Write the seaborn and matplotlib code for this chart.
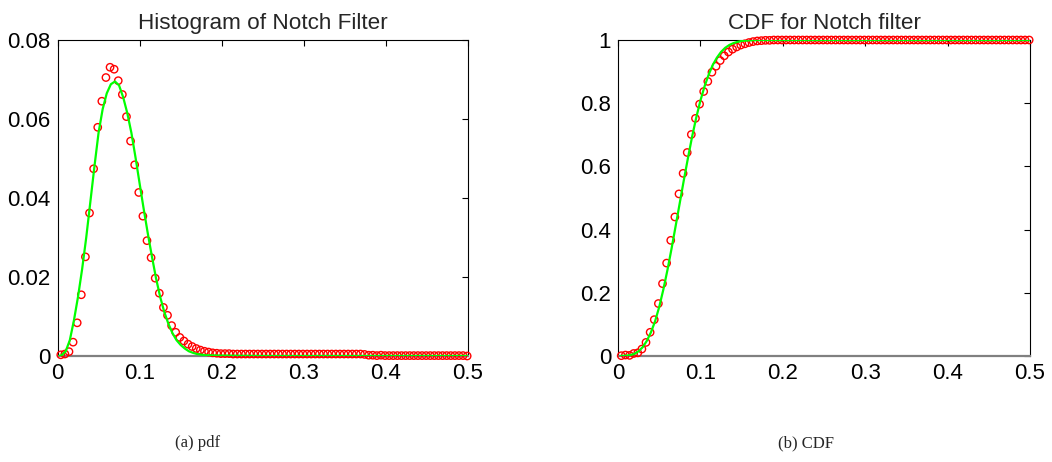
import numpy as np
import matplotlib
matplotlib.use("Agg")
import matplotlib.pyplot as plt
import seaborn as sns

sns.set_style("white")
plt.rcParams['font.family'] = ['Liberation Sans', 'DejaVu Sans']

# bin centres of the histogram (100 bins on 0..0.5)
bin_x = np.linspace(0.004, 0.499, 100)

# measured pdf (red circles)
pdf_hist = [
    0.0003, 0.0005, 0.0011, 0.0035, 0.0084, 0.0155, 0.0251, 0.0362, 0.0474, 0.0579,
    0.0645, 0.0705, 0.0731, 0.0726, 0.0697, 0.0662, 0.0606, 0.0544, 0.0484, 0.0414,
    0.0354, 0.0292, 0.0249, 0.0197, 0.0159, 0.0123, 0.0103, 0.0077, 0.0060, 0.0047,
    0.0038, 0.0030, 0.0024, 0.0019, 0.0015, 0.0012, 0.0010, 0.0008, 0.0007, 0.0006,
    0.0006, 0.0006, 0.0005, 0.0005, 0.0005, 0.0005, 0.0005, 0.0005, 0.0005, 0.0005,
    0.0005, 0.0005, 0.0005, 0.0005, 0.0005, 0.0005, 0.0005, 0.0005, 0.0005, 0.0005,
    0.0005, 0.0005, 0.0005, 0.0005, 0.0005, 0.0005, 0.0005, 0.0005, 0.0005, 0.0005,
    0.0005, 0.0005, 0.0005, 0.0005, 0.0004, 0.0002, 0.0002, 0.0001, 0.0002, 0.0001,
    0.0001, 0.0001, 0.0001, 0.0001, 0.0001, 0.0001, 0.0001, 0.0001, 0.0001, 0.0001,
    0.0001, 0.0001, 0.0001, 0.0001, 0.0001, 0.0001, 0.0001, 0.0001, 0.0001, 0.0000,
]

# measured CDF (red circles)
cdf_hist = [
    0.001, 0.003, 0.002, 0.008, 0.010, 0.022, 0.043, 0.075, 0.115, 0.166,
    0.229, 0.294, 0.366, 0.440, 0.513, 0.578, 0.644, 0.701, 0.752, 0.797,
    0.837, 0.869, 0.898, 0.917, 0.935, 0.950, 0.962, 0.971, 0.978, 0.984,
    0.988, 0.992, 0.995, 0.997, 0.998, 0.999, 0.999, 1.000, 1.000, 1.000,
    1.000, 1.000, 1.000, 1.000, 1.000, 1.000, 1.000, 1.000, 1.000, 1.000,
    1.000, 1.000, 1.000, 1.000, 1.000, 1.000, 1.000, 1.000, 1.000, 1.000,
    1.000, 1.000, 1.000, 1.000, 1.000, 1.000, 1.000, 1.000, 1.000, 1.000,
    1.000, 1.000, 1.000, 1.000, 1.000, 1.000, 1.000, 1.000, 1.000, 1.000,
    1.000, 1.000, 1.000, 1.000, 1.000, 1.000, 1.000, 1.000, 1.000, 1.000,
    1.000, 1.000, 1.000, 1.000, 1.000, 1.000, 1.000, 1.000, 1.000, 1.000,
]

# fitted pdf (green line)
fit_pdf_x = [0.002, 0.005, 0.010, 0.015, 0.020, 0.025, 0.030, 0.035, 0.040, 0.045,
             0.050, 0.055, 0.060, 0.065, 0.070, 0.075, 0.080, 0.085, 0.090, 0.095,
             0.100, 0.105, 0.110, 0.115, 0.120, 0.125, 0.130, 0.135, 0.140, 0.145,
             0.150, 0.155, 0.160, 0.165, 0.170, 0.180, 0.200, 0.250, 0.500]
fit_pdf_y = [0.0000, 0.0002, 0.0012, 0.0040, 0.0090, 0.0150, 0.0220, 0.0300, 0.0390, 0.0480,
             0.0565, 0.0625, 0.0665, 0.0688, 0.0695, 0.0685, 0.0655, 0.0615, 0.0565, 0.0503,
             0.0437, 0.0372, 0.0310, 0.0252, 0.0197, 0.0150, 0.0112, 0.0082, 0.0058, 0.0040,
             0.0028, 0.0019, 0.0012, 0.0008, 0.0005, 0.0002, 0.0001, 0.0000, 0.0000]

# fitted CDF (green line)
fit_cdf_x = [0.003, 0.010, 0.015, 0.020, 0.025, 0.030, 0.035, 0.040, 0.045, 0.050,
             0.055, 0.060, 0.065, 0.070, 0.075, 0.080, 0.085, 0.090, 0.095, 0.100,
             0.105, 0.110, 0.115, 0.120, 0.125, 0.130, 0.135, 0.140, 0.145, 0.150,
             0.160, 0.170, 0.500]
fit_cdf_y = [0.000, 0.001, 0.003, 0.007, 0.015, 0.028, 0.048, 0.075, 0.110, 0.155,
             0.210, 0.272, 0.340, 0.412, 0.485, 0.558, 0.628, 0.695, 0.755, 0.808,
             0.853, 0.890, 0.921, 0.944, 0.962, 0.975, 0.984, 0.990, 0.994, 0.997,
             0.999, 1.000, 1.000]

x_ticks = [0, 0.1, 0.2, 0.3, 0.4, 0.5]
x_labels = ['0', '0.1', '0.2', '0.3', '0.4', '0.5']
pdf_ticks = [0, 0.02, 0.04, 0.06, 0.08]
pdf_labels = ['0', '0.02', '0.04', '0.06', '0.08']
cdf_ticks = [0, 0.2, 0.4, 0.6, 0.8, 1.0]
cdf_labels = ['0', '0.2', '0.4', '0.6', '0.8', '1']

fig = plt.figure(figsize=(10.52, 4.62), dpi=100)
ax1 = fig.add_axes([57.5 / 1052, 1 - 356 / 462, 410.5 / 1052, 316 / 462])
ax2 = fig.add_axes([618 / 1052, 1 - 356 / 462, 412 / 1052, 316 / 462])


def draw(ax, y_hist, fx, fy, yticks, ylabels, title):
    sns.scatterplot(x=bin_x, y=y_hist, ax=ax, marker='o', s=28, facecolors='none',
                    edgecolor='red', linewidth=1.0, clip_on=False, zorder=3)
    sns.lineplot(x=fx, y=fy, ax=ax, color='#00ff00', linewidth=1.6, zorder=4)
    ax.set_xlim(0, 0.5)
    ax.set_ylim(yticks[0], yticks[-1])
    ax.set_xticks(x_ticks)
    ax.set_xticklabels(x_labels)
    ax.set_yticks(yticks)
    ax.set_yticklabels(ylabels)
    ax.tick_params(direction='in', length=4, width=0.8, labelsize=16,
                   top=True, right=True, pad=5, colors='black')
    for side in ['left', 'top', 'right']:
        ax.spines[side].set_color('black')
        ax.spines[side].set_linewidth(0.8)
    ax.spines['bottom'].set_color('#808080')
    ax.spines['bottom'].set_linewidth(1.6)
    ax.set_title(title, fontsize=16.2, pad=8)


draw(ax1, pdf_hist, fit_pdf_x, fit_pdf_y, pdf_ticks, pdf_labels, 'Histogram of Notch Filter')
draw(ax2, cdf_hist, fit_cdf_x, fit_cdf_y, cdf_ticks, cdf_labels, 'CDF for Notch filter')

fig.text(198 / 1052, 1 - 443 / 462, '(a) pdf', family='Liberation Serif', fontsize=12,
         ha='center', va='center')
fig.text(806 / 1052, 1 - 443 / 462, '(b) CDF', family='Liberation Serif', fontsize=12,
         ha='center', va='center')

fig.savefig('out.png', dpi=100)
